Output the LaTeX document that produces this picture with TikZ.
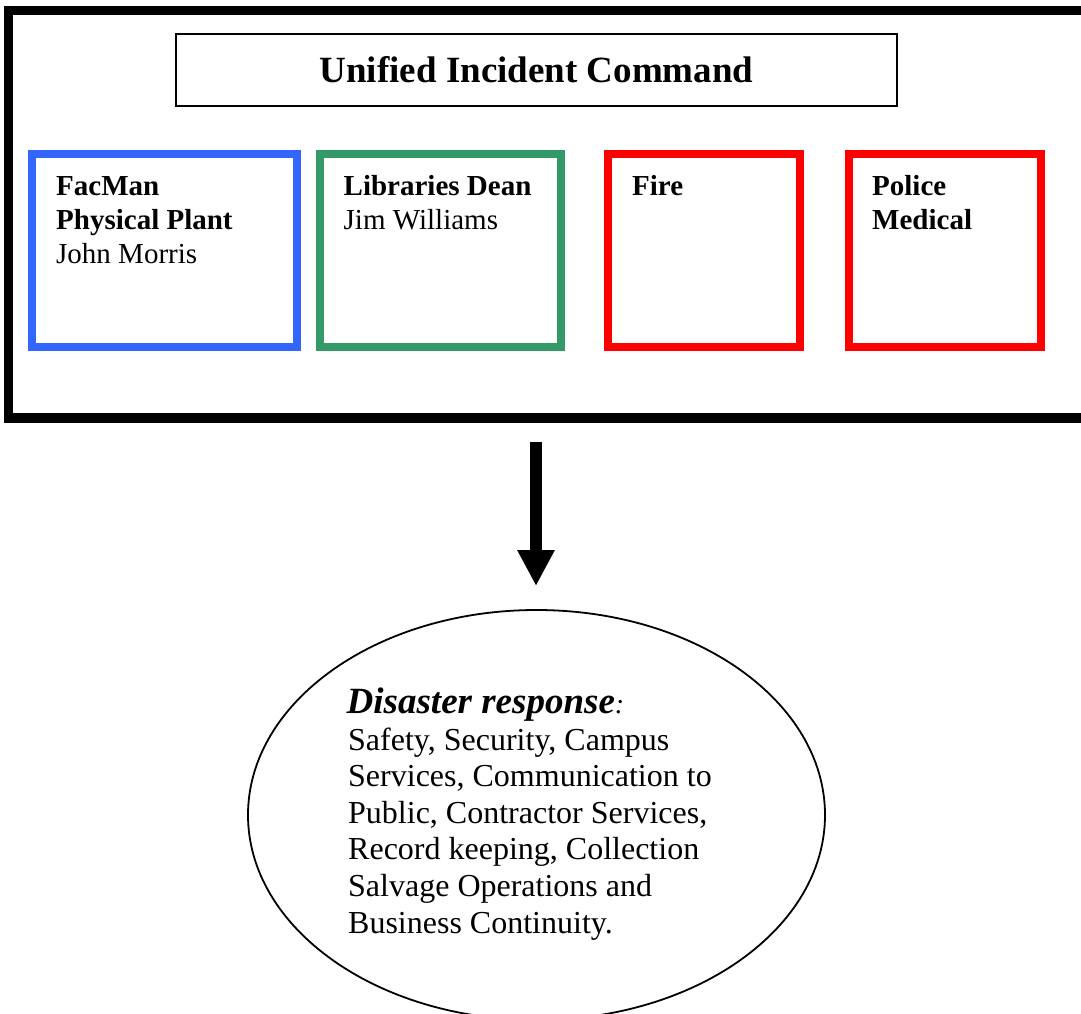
\documentclass[tikz,border=0pt]{standalone}
\usepackage{fontspec}
\setmainfont{Liberation Serif}
\usetikzlibrary{arrows.meta,shapes.geometric}
\definecolor{fmblue}{HTML}{3366FF}
\definecolor{libgreen}{HTML}{339966}
\definecolor{emred}{HTML}{FF0000}
\begin{document}
\begin{tikzpicture}[x=1pt,y=-1pt,
  unitbox/.style={draw, line width=8pt, minimum height=193pt, inner sep=0pt},
  boxtxt/.style={anchor=base west, inner sep=0pt, align=left, font=\fontsize{29}{34}\selectfont},
  bodytxt/.style={anchor=base west, inner sep=0pt, align=left, font=\fontsize{32}{36.6}\selectfont}]
\useasboundingbox (0,0) rectangle (1081,1014);
\clip (0,0) rectangle (1081,1014);
% outer frame
\draw[line width=9.5pt] (8.5,10.5) rectangle (1100,418);
\coordinate (frameb) at (536,442);
% title
\node[draw, line width=2pt, minimum width=721pt, minimum height=72pt, inner sep=0pt,
      font=\fontsize{37}{40}\selectfont\bfseries] (title) at (536.5,70) {Unified Incident Command};
% unit boxes
\node[unitbox, draw=fmblue, minimum width=265pt] (facman) at (164.5,250.5) {};
\node[unitbox, draw=libgreen, minimum width=241pt] (lib) at (440.5,250.5) {};
\node[unitbox, draw=emred, minimum width=192pt] (fire) at (704,250.5) {};
\node[unitbox, draw=emred, minimum width=192pt] (police) at (945,250.5) {};
% (base anchor of a multi-line node = baseline of its last line)
\node[boxtxt] (facmantxt) at (56,263.5) {\textbf{FacMan}\\\textbf{Physical Plant}\\John Morris};
\node[boxtxt] (libtxt) at (343.5,229.5) {\textbf{Libraries Dean}\\Jim Williams};
\node[boxtxt] (firetxt) at (632,195.5) {\textbf{Fire}};
\node[boxtxt] (policetxt) at (872,229.5) {\textbf{Police}\\\textbf{Medical}};
% ellipse
\node[draw, ellipse, line width=1.8pt, minimum width=577pt, minimum height=410pt, inner sep=0pt] (resp) at (536.5,815) {};
\coordinate (resptop) at (536,586);
\draw[line width=12pt, -{Triangle[width=35pt,length=36pt]}] (frameb) -- (resptop);
\node[anchor=base west, inner sep=0pt] (resphead) at (346.5,713)
  {\fontsize{37}{40}\selectfont\bfseries\itshape Disaster response\fontsize{28}{30}\selectfont\mdseries:};
\node[bodytxt] (respbody) at (348,933)
  {Safety, Security, Campus\\Services, Communication to\\Public, Contractor Services,\\Record keeping, Collection\\Salvage Operations and\\Business Continuity.};
\end{tikzpicture}
\end{document}
